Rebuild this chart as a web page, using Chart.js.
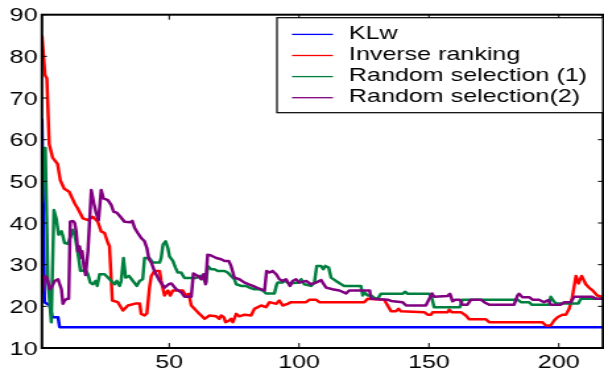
<!DOCTYPE html>
<html>
<head>
<meta charset="utf-8">
<script src="https://cdn.jsdelivr.net/npm/chart.js@4.4.1/dist/chart.umd.min.js"></script>
<style>
    html, body { margin: 0; padding: 0; background: #fff; }
</style>
</head>
<body>
<!-- the figure is drawn narrow and stretched sideways, like the original -->
<canvas id="chart" width="458" height="373" style="width:604px;height:373px"></canvas>
<script>
const xTicks = [50, 100, 150, 200];
const yTicks = [10, 20, 30, 40, 50, 60, 70, 80, 90];
const seriesLabels = ["KLw", "Inverse ranking", "Random selection (1)", "Random selection(2)"];

const klwX = [1, 2, 3, 4, 5, 7.2, 7.8, 217];
const klwY = [65, 21, 20.6, 20.2, 17.4, 17.4, 15, 15];

const invX = [1, 2.2, 2.9, 3.8, 5.1, 7, 8.1, 9.6, 11.5, 13.6, 14.8, 16.8, 18.7, 20.6, 22.5, 23.8, 25.1, 26.4, 27,
    28.1, 30.2, 32.2, 34.1, 37.3, 38.6, 39.2, 40.5, 41.4, 42.4, 43.1, 44.3, 46.3, 46.9, 48.2, 49.5, 50.4, 51.4,
    55.2, 56.5, 57.5, 58.5, 61, 63.6, 65.5, 68.1, 69.3, 70, 71, 71.7, 73.2, 73.8, 74.5, 75.8, 77, 79, 81.5, 82.8,
    85.4, 87.3, 88.6, 91.2, 92.4, 93.7, 95.6, 96.9, 102.7, 104, 106.5, 107.8, 125.1, 126.4, 132.8, 134.1, 135.4,
    137.3, 138.3, 139.2, 148.2, 149.5, 150.8, 151.4, 157.2, 157.8, 158.8, 162.3, 164.2, 165.5, 171.9, 173.2,
    193.7, 195, 196.9, 198.2, 199.5, 201.4, 202.7, 204, 205.2, 206.6, 207.6, 208.8, 210.4, 211.6, 212.9, 214.8, 217];
const invY = [85, 75.5, 74.7, 58.9, 55.7, 54.2, 50.2, 48.2, 47.5, 44.7, 43.5, 41.1, 40.7, 41.5, 40.3, 38, 37.6, 35.2, 34.5,
    21.4, 21, 19, 20.2, 20.7, 20.7, 18.2, 17.8, 18.3, 24.5, 27.3, 28.5, 28.5, 26.1, 22.6, 23.8, 22.6, 23.8,
    23.8, 22.6, 23, 20.2, 18.6, 17, 17.8, 17.6, 17, 17.8, 17.4, 16.2, 16.6, 17, 16.2, 18.2, 17.6, 18, 17.8, 19.4,
    20.2, 19.8, 21, 20.6, 21.4, 20.2, 20.6, 21, 21, 21.6, 21.6, 21, 21, 21.8, 21.6, 20.2, 18.8,
    18.8, 19.4, 18.8, 18.6, 18, 18, 18.6, 18.6, 19.2, 18.6, 18.6, 17.8, 16.9, 16.9, 16.2,
    16.2, 15.4, 15.4, 16.6, 17.4, 18, 18, 19.4, 22.2, 27.3, 25.5, 27.3, 25.3, 24.5, 23.9, 22.6, 22.2];

const rs1X = [1, 1.5, 2.3, 3.3, 4.6, 5.6, 6.5, 7.4, 8.5, 9.1, 9.7, 11, 12.3, 12.9, 13.6, 14.5, 15.2, 15.8, 17.8, 18.7,
    19.6, 20.6, 21.7, 22.3, 23.2, 25.1, 26.4, 27.7, 29, 29.8, 30.9, 31.5, 32.4, 33.2, 34.5, 36, 37.5, 38.6, 39.8,
    40.5, 42.4, 43.7, 46.3, 46.9, 47.6, 48.6, 49.5, 50.1, 51.4, 52.4, 53.3, 54.6, 55.9, 60.4, 61.4, 62.7, 63.6,
    64.2, 64.8, 66.1, 67.4, 68.7, 71.3, 72.5, 73.8, 75.1, 75.8, 77.7, 79.6, 80.9, 82.8, 84.7, 86, 87.3, 90.5, 91.4,
    91.8, 93.7, 94.3, 96, 100.1, 100.8, 102, 104.6, 105.9, 106.8, 108.5, 109.3, 110.1, 111.4, 112.3, 114.2, 116.2,
    117.4, 123.8, 124.5, 125.1, 126.4, 127.7, 129, 130.2, 131.5, 139.8, 140.9, 141.8, 150.1, 151.2, 152, 161.9,
    162.9, 184.1, 185.4, 188.6, 189.6, 196.3, 196.9, 198.2, 199, 207.5, 208.5, 217];
const rs1Y = [45, 58, 58, 26.1, 16.2, 43.1, 41.1, 37.2, 38, 36.8, 35.2, 35, 37.2, 38.4, 37.2, 34, 31.3, 28.5, 28.7, 27.7,
    25.7, 25.3, 26.1, 24.9, 27.7, 27.7, 26.9, 26.1, 25.3, 26.1, 24.9, 26.1, 31.6, 26.9, 27.3, 26.1, 24.9, 26.1, 26.5,
    31.6, 31.6, 30.5, 30.5, 31.6, 34.8, 35.6, 34, 32, 30.9, 29.3, 28.1, 28.1, 26.8, 26.8, 27.3, 27.3, 26.1,
    25.7, 29.7, 28.9, 28.9, 28.5, 28.5, 28.1, 27.3, 26.5, 25.3, 24.9, 24.9, 24.5, 24.1, 24.1, 23.8, 23.1, 23.1, 25.3,
    25.7, 25.7, 26.3, 25.5, 25.7, 26.5, 25.3, 24.9, 25.7, 29.7, 29.7, 28.9, 29.7, 29.3, 26.9, 26.1, 25.3,
    24.9, 24.9, 22.6, 23.4, 22.6, 22.6, 22, 21.8, 23, 23, 23.5, 23, 23, 21.8, 19.8, 19.8,
    21.6, 21.6, 21, 21, 20.4, 20.4, 22.3, 21.1, 20.7, 20.7, 21.8, 21.8];

const rs2X = [1, 2, 2.9, 4, 5, 5.9, 7.2, 8.5, 9.1, 9.7, 10.6, 11.3, 11.9, 12.9, 13.6, 14.2, 14.8, 15.5, 16.2, 16.5,
    17.2, 17.8, 18.7, 20, 21, 21.9, 22.8, 23.8, 24.7, 26.4, 27.7, 28.6, 29.8, 31.2, 32.8, 35, 35.8, 36.7, 37.9,
    39.2, 40.5, 41.4, 42.2, 43.1, 44.3, 46.3, 48.2, 49.8, 50.8, 52.7, 54.6, 55.9, 58.5, 59.3, 61, 62.3, 63.2, 64,
    64.8, 66.1, 68.1, 70, 71.3, 72.9, 73.8, 75.1, 77, 79, 80.9, 82.2, 83.7, 85.4, 86.7, 87.5, 88.6, 89.8, 91.2,
    92.4, 93.7, 95, 96.5, 97.5, 98.8, 100.1, 102.7, 104.6, 106.5, 108.5, 109.3, 110.4, 112.9, 115.5, 118.1, 119.3,
    127.2, 127.7, 134.1, 135.4, 139.8, 141.2, 148.8, 150.1, 151.2, 152, 157.2, 158.1, 159.1, 160.1, 161.9, 162.9,
    164.8, 166.2, 170, 171.3, 173.2, 182.8, 184.1, 184.7, 186, 188.6, 189.9, 192.4, 194.3, 196, 196.9, 200.8,
    202.1, 204.6, 205.9, 212.9, 214.2, 217];
const rs2Y = [23, 27.3, 26.9, 24.1, 24.9, 26.1, 26.5, 24.1, 20.6, 21.4, 21.8, 21.8, 40.3, 40.5, 40, 38, 33.2, 34.4, 31.6, 33.2,
    29.3, 27.5, 33.2, 47.9, 44.7, 42.3, 40.7, 47.9, 45.9, 45.5, 44.3, 42.7, 42.5, 41.5, 40.3, 40.2, 40.5, 38.8, 37.6,
    36.4, 35.6, 34, 31.3, 30.5, 28.5, 26.1, 24.5, 25.3, 25.5, 24.1, 23.4, 22.3, 22.3, 27.9, 27.3, 26.5, 27.7, 25.3,
    32.4, 32.2, 31.6, 31.3, 30.9, 30.9, 29.7, 26.9, 26.5, 25.7, 25.2, 24.9, 24.5, 24.1, 23.8, 28.5, 28.1, 28.5, 27.7,
    26.5, 26.1, 26.5, 24.9, 26.1, 26.5, 25.7, 26.1, 25.3, 25.7, 26.3, 25.5, 24.5, 24.1, 23.8, 23.1, 23.8,
    23.8, 21.8, 21.6, 21.3, 21, 20.2, 20.2, 21.8, 23.1, 22.3, 22.5, 23, 21.2, 21.6, 21.6, 20.4,
    20.4, 21.6, 21.6, 21, 20.4, 20.4, 22.6, 23, 22.2, 22.2, 21.6, 21.6, 21, 21.5, 20.4, 20.4,
    21, 21, 22.3, 22.3, 21.8, 21.8];

const seriesColors = ["#0000ff", "#ff0000", "#00803f", "#800080"];
const labelFont = { family: "'Liberation Sans', Arial, sans-serif", size: 19 };

function toPoints(xs, ys) {
    return xs.map((x, i) => ({ x: x, y: ys[i] }));
}

function makeDataset(index, xs, ys) {
    return {
        label: seriesLabels[index],
        data: toPoints(xs, ys),
        borderColor: seriesColors[index],
        backgroundColor: seriesColors[index],
        borderWidth: 2.5,
        pointRadius: 0,
        tension: 0,
        fill: false,
        borderJoinStyle: "round",
        // later series on top, like the original
        order: 4 - index
    };
}

// box, inward ticks and legend drawn the old matlab way
const matlabFrame = {
    id: "matlabFrame",
    afterDraw(chart) {
        const ctx = chart.ctx;
        const a = chart.chartArea;
        const xs = chart.scales.x;
        const ys = chart.scales.y;

        ctx.save();
        ctx.strokeStyle = "#000";
        ctx.lineWidth = 1;
        ctx.beginPath();
        xTicks.forEach(v => {
            const px = xs.getPixelForValue(v);
            ctx.moveTo(px, a.bottom);
            ctx.lineTo(px, a.bottom - 5);
            ctx.moveTo(px, a.top);
            ctx.lineTo(px, a.top + 5);
        });
        yTicks.forEach(v => {
            const py = ys.getPixelForValue(v);
            ctx.moveTo(a.left, py);
            ctx.lineTo(a.left + 3.8, py);
            ctx.moveTo(a.right, py);
            ctx.lineTo(a.right - 3.8, py);
        });
        ctx.stroke();

        ctx.lineWidth = 2;
        ctx.strokeRect(a.left, a.top, a.right - a.left, a.bottom - a.top);

        const boxLeft = 210;
        const boxTop = a.top + 3;
        ctx.fillStyle = "#fff";
        ctx.fillRect(boxLeft, boxTop, a.right - boxLeft, 95);
        ctx.lineWidth = 1.2;
        ctx.strokeRect(boxLeft, boxTop, a.right - boxLeft, 95);

        ctx.font = labelFont.size + "px " + labelFont.family;
        ctx.textBaseline = "middle";
        ctx.textAlign = "left";
        seriesLabels.forEach((label, i) => {
            const rowY = boxTop + 16.7 + i * 21.1;
            ctx.strokeStyle = seriesColors[i];
            ctx.lineWidth = 1.3;
            ctx.beginPath();
            ctx.moveTo(221.4, rowY);
            ctx.lineTo(252.5, rowY);
            ctx.stroke();
            ctx.fillStyle = "#000";
            ctx.fillText(label, 264.6, rowY - 0.5);
        });
        ctx.restore();
    }
};

const chart = new Chart(document.getElementById("chart"), {
    type: "line",
    data: {
        datasets: [
            makeDataset(0, klwX, klwY),
            makeDataset(1, invX, invY),
            makeDataset(2, rs1X, rs1Y),
            makeDataset(3, rs2X, rs2Y)
        ]
    },
    options: {
        responsive: false,
        animation: false,
        devicePixelRatio: 1,
        layout: { padding: { top: 10, right: 0.8, left: 0, bottom: 0 } },
        plugins: {
            legend: { display: false },
            tooltip: { enabled: false }
        },
        scales: {
            x: {
                type: "linear",
                min: 1,
                max: 217,
                afterBuildTicks: s => { s.ticks = xTicks.map(v => ({ value: v })); },
                afterFit: s => { s.height = 25; },
                ticks: { font: labelFont, color: "#000", padding: 3, maxRotation: 0, autoSkip: false },
                grid: { display: false, drawTicks: false },
                border: { display: false }
            },
            y: {
                min: 10,
                max: 90,
                afterBuildTicks: s => { s.ticks = yTicks.map(v => ({ value: v })); },
                afterFit: s => { s.width = 31.8; },
                ticks: { font: labelFont, color: "#000", padding: 3.3, labelOffset: 1.5 },
                grid: { display: false, drawTicks: false },
                border: { display: false }
            }
        }
    },
    plugins: [matlabFrame]
});
</script>
</body>
</html>
